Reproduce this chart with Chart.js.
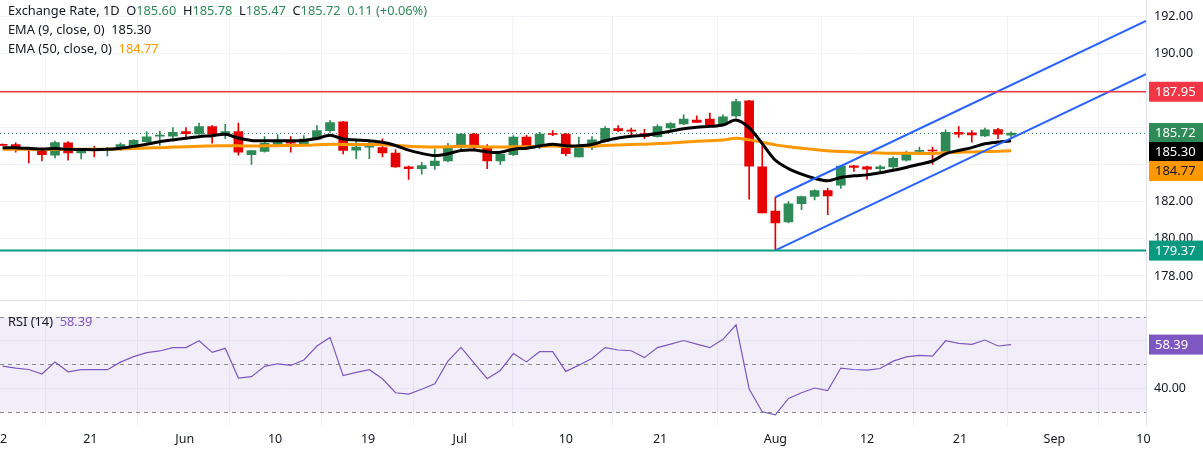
<!DOCTYPE html>
<html><head><meta charset="utf-8">
<script src="https://cdn.jsdelivr.net/npm/chart.js@4.4.1/dist/chart.umd.min.js"></script>
<style>
body{margin:0;background:#fff;font-family:"Noto Sans",Roboto,sans-serif;}
#wrap{position:relative;width:1203px;height:453px;}
.lg{position:absolute;left:8px;font-size:12.8px;color:#131722;white-space:nowrap;}
.g{color:#2e8b57}.o{color:#ff9800}.p{color:#7e57c2}
</style></head><body>
<div id="wrap"><canvas id="c" width="1203" height="453"></canvas>
<div class="lg" style="top:1px">Exchange Rate, 1D&nbsp; O<span class="g">185.60</span>&nbsp; H<span class="g">185.78</span>&nbsp; L<span class="g">185.47</span>&nbsp; C<span class="g">185.72</span>&nbsp; <span class="g">0.11 (+0.06%)</span></div>
<div class="lg" style="top:20px">EMA (9, close, 0)&nbsp; 185.30</div>
<div class="lg" style="top:39px">EMA (50, close, 0)&nbsp; <span class="o">184.77</span></div>
<div class="lg" style="top:312px">RSI (14)&nbsp; <span class="p">58.39</span></div>
</div>
<script>
const opens=[185.10,185.09,184.89,184.82,184.53,185.19,184.64,184.82,184.78,184.84,185.03,185.25,185.55,185.55,185.80,185.67,186.07,185.67,185.80,184.55,184.73,185.10,185.26,185.14,185.39,185.85,186.33,184.80,184.96,184.93,184.64,183.89,183.80,183.96,184.21,184.96,185.67,185.00,184.21,184.55,185.50,185.01,185.67,185.67,184.43,184.96,185.28,185.96,185.85,185.69,185.53,185.99,186.21,186.42,186.48,186.17,186.64,187.46,183.89,181.51,180.92,181.90,182.29,182.61,182.91,183.95,183.89,183.80,183.89,184.25,184.73,184.78,184.73,185.76,185.73,185.57,185.91,185.60];
const highs=[185.14,185.19,184.93,184.93,185.28,185.26,184.87,185.00,184.93,185.19,185.37,185.80,185.82,186.01,186.01,186.26,186.12,186.19,186.26,184.78,185.53,185.64,185.53,185.58,186.12,186.39,186.35,185.32,185.32,185.41,184.82,183.93,184.14,184.87,185.17,185.71,185.71,185.10,184.60,185.58,185.60,185.76,185.85,185.71,185.50,185.53,186.07,186.12,185.99,185.92,186.17,186.28,186.71,186.65,186.80,186.71,187.54,187.49,185.23,182.25,182.02,182.32,182.65,182.73,183.98,183.98,183.93,183.98,184.43,184.75,184.96,184.96,185.89,186.07,185.85,185.99,185.98,185.78];
const lows=[185.05,184.69,184.11,184.21,184.37,184.25,184.32,184.43,184.48,184.78,185.00,185.21,185.05,185.32,185.50,185.64,185.17,185.41,184.52,184.03,184.68,185.05,184.68,185.10,185.35,185.76,184.59,184.34,184.34,184.43,183.86,183.22,183.50,183.75,184.16,184.87,184.82,183.80,184.03,184.50,184.82,184.87,185.58,184.48,184.43,184.82,185.23,185.80,185.58,185.41,185.50,185.85,186.17,186.28,186.10,186.14,186.56,182.15,181.40,179.38,180.86,181.58,182.11,181.31,182.73,183.64,183.22,183.54,183.71,184.20,184.60,184.03,184.60,185.50,185.23,185.53,185.41,185.47];
const closes=[185.05,184.93,184.85,184.55,185.21,184.64,184.78,184.77,184.85,185.09,185.32,185.51,185.60,185.76,185.69,186.07,185.66,185.80,184.69,184.77,185.16,185.26,185.17,185.39,185.85,186.28,184.78,184.96,185.09,184.64,183.89,183.80,183.96,184.20,185.00,185.67,184.96,184.21,184.57,185.50,185.00,185.66,185.64,184.60,184.96,185.35,185.98,185.85,185.82,185.53,186.07,186.23,186.48,186.30,186.15,186.60,187.42,183.93,181.40,180.86,181.90,182.29,182.61,182.32,183.93,183.86,183.77,183.89,184.36,184.66,184.78,184.75,185.76,185.66,185.62,185.89,185.66,185.72];
const ema9=[184.93,184.92,184.90,184.85,184.88,184.84,184.83,184.82,184.84,184.90,185.00,185.12,185.25,185.35,185.44,185.52,185.58,185.65,185.45,185.32,185.30,185.30,185.30,185.32,185.42,185.60,185.40,185.35,185.30,185.22,185.05,184.80,184.62,184.50,184.60,184.78,184.80,184.70,184.68,184.85,184.90,185.02,185.12,185.03,185.03,185.10,185.30,185.45,185.55,185.60,185.70,185.82,185.95,186.03,186.08,186.15,186.42,186.00,185.15,184.25,183.80,183.50,183.27,183.14,183.32,183.41,183.46,183.57,183.71,183.86,184.03,184.21,184.60,184.78,184.93,185.14,185.23,185.30];
const ema50=[184.85,184.85,184.84,184.83,184.84,184.84,184.84,184.84,184.85,184.86,184.88,184.91,184.93,184.96,184.98,185.01,185.02,185.04,185.03,185.02,185.03,185.04,185.05,185.06,185.09,185.12,185.10,185.10,185.10,185.09,185.05,185.01,184.98,184.97,184.98,185.01,185.00,184.97,184.96,184.98,184.98,185.00,185.02,185.00,185.00,185.01,185.05,185.08,185.10,185.12,185.15,185.18,185.23,185.27,185.31,185.35,185.44,185.35,185.22,185.08,184.98,184.90,184.83,184.76,184.72,184.69,184.66,184.64,184.63,184.63,184.62,184.62,184.65,184.68,184.70,184.72,184.74,184.77];
const rsi=[49.3,48.5,47.9,46.0,51.0,46.9,47.8,47.8,47.8,51.0,53.3,55.0,55.7,57.1,57.1,60.0,55.1,56.8,44.3,44.9,49.2,50.3,49.6,51.9,57.8,61.4,45.3,46.7,47.8,44.0,38.1,37.5,39.6,41.9,51.4,57.2,50.6,44.0,47.5,54.6,51.1,55.4,55.4,47.1,49.7,52.5,57.1,56.1,55.8,52.9,57.1,58.6,60.1,58.6,57.1,60.6,66.7,39.7,30.1,28.8,35.7,38.1,40.1,39.0,48.5,47.9,47.6,48.3,51.4,53.2,53.8,53.5,60.0,58.9,58.5,60.3,57.8,58.39];
const tickPos=[-0.2,6.7,13.9,20.8,27.9,34.9,43.0,50.2,59.0,66.0,73.1,80.3,87.1];
const tickLabels=['12','21','Jun','10','19','Jul','10','21','Aug','12','21','Sep','10'];
const channelLower=[[59,179.38],[87.3,188.9]];
const channelUpper=[[59,182.25],[87.3,191.78]];
const resistance=187.95, support=179.37, lastPrice=185.72;

const GREEN='#2e8b57', RED='#e60000';
const idx=closes.map((_,i)=>i);
const col=idx.map(i=>closes[i]>=opens[i]?GREEN:RED);
const XMIN=-0.2, XMAX=87.3;
const F='"Noto Sans", Roboto, sans-serif';

const overlay={id:'ov',
 beforeDatasetsDraw(ch){
  const c=ch.ctx,a=ch.chartArea,yr=ch.scales.yr;
  c.save();
  c.fillStyle='rgba(126,87,194,0.1)';
  const t=yr.getPixelForValue(70),b=yr.getPixelForValue(30);
  c.fillRect(a.left,t,a.right-a.left,b-t);
  c.strokeStyle='#888';c.setLineDash([4,4]);c.lineWidth=1;
  [70,50,30].forEach(v=>{const y=Math.round(yr.getPixelForValue(v))+0.5;c.beginPath();c.moveTo(a.left,y);c.lineTo(a.right,y);c.stroke();});
  c.setLineDash([1,3]);c.strokeStyle='#4a8a7a';
  const yp=Math.round(ch.scales.y.getPixelForValue(lastPrice))+0.5;
  c.beginPath();c.moveTo(a.left,yp);c.lineTo(a.right,yp);c.stroke();
  c.setLineDash([]);c.strokeStyle='#e0e3eb';
  const ys=Math.round(yr.top)+0.5;c.beginPath();c.moveTo(0,ys);c.lineTo(1203,ys);c.stroke();
  c.beginPath();c.moveTo(a.right+0.5,0);c.lineTo(a.right+0.5,a.bottom);c.stroke();
  c.restore();
 },
 afterDraw(ch){
  const c=ch.ctx,y=ch.scales.y,yr=ch.scales.yr,a=ch.chartArea;
  c.save();
  c.lineWidth=1.5;c.strokeStyle='#f23645';
  let yy=y.getPixelForValue(resistance);c.beginPath();c.moveTo(0,yy);c.lineTo(a.right,yy);c.stroke();
  c.lineWidth=2;c.strokeStyle='#089981';
  yy=y.getPixelForValue(support);c.beginPath();c.moveTo(0,yy);c.lineTo(a.right,yy);c.stroke();
  const boxes=[[resistance,'#f23645','#fff',y],[lastPrice,GREEN,'#fff',y],[ema9[ema9.length-1],'#000','#fff',y],[ema50[ema50.length-1],'#ff9800','#131722',y],[support,'#089981','#fff',y],[rsi[rsi.length-1],'#7e57c2','#fff',yr]];
  let prev=-100;
  c.font='13px '+F;c.textBaseline='middle';
  boxes.forEach(([v,bg,fg,s],k)=>{
    let py=s.getPixelForValue(v);
    if(k>=2&&k<=3) py=Math.max(py,prev+19);
    prev=py;
    c.fillStyle=bg;c.fillRect(a.right+3,py-10,1203-a.right-3,20);
    c.fillStyle=fg;c.fillText(v.toFixed(2),a.right+9,py+0.5);
  });
  c.restore();
 }};

const ch=new Chart(document.getElementById('c'),{
 data:{datasets:[
  {type:'bar',label:'wick',data:idx.map(i=>({x:i,y:[lows[i],highs[i]]})),backgroundColor:col,barThickness:1,grouped:false,yAxisID:'y',order:5},
  {type:'bar',label:'body',data:idx.map(i=>({x:i,y:[opens[i],closes[i]]})),backgroundColor:col,barThickness:9,minBarLength:1,grouped:false,yAxisID:'y',order:4},
  {type:'line',data:idx.map(i=>({x:i,y:ema50[i]})),borderColor:'#ff9800',borderWidth:3,pointRadius:0,tension:0.3,yAxisID:'y',order:3},
  {type:'line',data:idx.map(i=>({x:i,y:ema9[i]})),borderColor:'#000',borderWidth:3,pointRadius:0,tension:0.3,yAxisID:'y',order:2},
  {type:'line',data:channelLower.map(p=>({x:p[0],y:p[1]})),borderColor:'#2962ff',borderWidth:2,pointRadius:0,yAxisID:'y',order:1},
  {type:'line',data:channelUpper.map(p=>({x:p[0],y:p[1]})),borderColor:'#2962ff',borderWidth:2,pointRadius:0,yAxisID:'y',order:1},
  {type:'line',data:idx.map(i=>({x:i,y:rsi[i]})),borderColor:'#7e57c2',borderWidth:1.2,pointRadius:0,tension:0,yAxisID:'yr',order:1}
 ]},
 options:{responsive:false,animation:false,events:[],
  layout:{padding:0},
  plugins:{legend:{display:false},tooltip:{enabled:false}},
  scales:{
   x:{type:'linear',min:XMIN,max:XMAX,offset:false,
      afterBuildTicks:s=>{s.ticks=tickPos.map(v=>({value:v}));},
      afterFit:s=>{s.paddingLeft=0;s.paddingRight=0;},
      ticks:{autoSkip:false,maxRotation:0,padding:6,color:'#131722',font:{size:12.5,family:F},callback:(v,i)=>tickLabels[i]},
      grid:{color:'#f0f3fa',drawTicks:false},border:{display:false}},
   y:{type:'linear',position:'right',stack:'r',stackWeight:288,min:176.68,max:192.07,
      afterBuildTicks:s=>{s.ticks=[178,180,182,184,186,188,190,192].map(v=>({value:v}));},
      ticks:{color:'#131722',padding:8,font:{size:12.5,family:F},callback:v=>[184,186,188].includes(v)?'':v.toFixed(2)},
      grid:{color:'#f0f3fa',drawTicks:false},border:{display:false},
      afterFit:s=>{s.width=57;}},
   yr:{type:'linear',position:'right',stack:'r',stackWeight:127,offset:false,min:24.1,max:77.0,
      afterBuildTicks:s=>{s.ticks=[40,60].map(v=>({value:v}));},
      ticks:{color:'#131722',padding:8,font:{size:12.5,family:F},callback:v=>v==40?'40.00':''},
      grid:{color:'#f0f3fa',drawTicks:false},border:{display:false},
      afterFit:s=>{s.width=57;}}
  }},
 plugins:[overlay]
});
</script></body></html>
